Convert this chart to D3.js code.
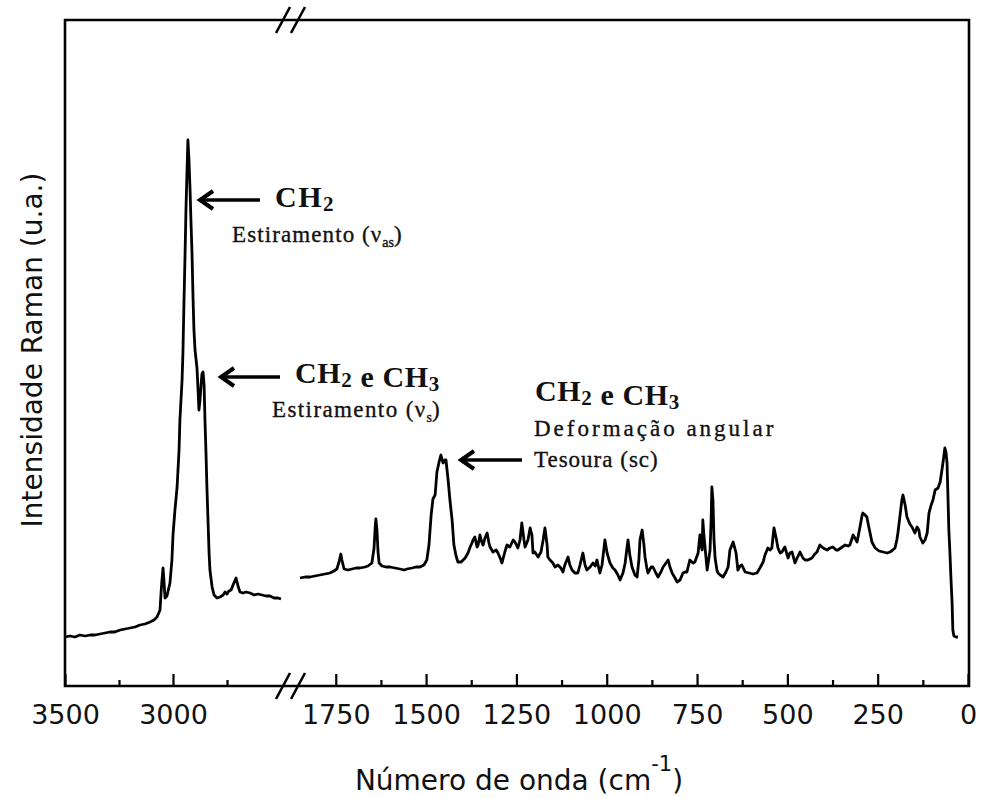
<!DOCTYPE html>
<html>
<head>
<meta charset="utf-8">
<script src="https://cdn.jsdelivr.net/npm/d3@7"></script>
<style>
  html, body { margin: 0; padding: 0; background: #fff; }
  svg { display: block; }
</style>
</head>
<body>
<svg id="chart" width="982" height="798"></svg>
<script>
// Raman spectrum with a broken wavenumber axis (high-frequency C-H stretch region | fingerprint region)

// High-frequency region (cm-1) and intensity (arbitrary units)
const leftWavenumber = [3500,3477,3454,3431,3407,3384,3361,3338,3315,3292,3269,3245,3222,3199,3176,3153,3130,3106,3088,3074,3060,3056,3051,3046,3042,3037,3028,3014,3005,3000,2991,2981,2972,2968,2958,2954,2949,2944,2940,2935,2931,2926,2921,2917,2912,2907,2903,2898,2893,2889,2884,2880,2875,2870,2866,2861,2856,2852,2847,2843,2838,2833,2829,2819,2810,2796,2782,2768,2759,2750,2741,2731,2722,2708,2699,2690,2676,2662,2643,2625,2606,2588,2569,2551,2532,2514,2500];
const leftIntensity = [49,50,49,51,50,51,51,52,53,54,54,56,57,58,59,61,62,64,66,69,76,91,106,118,106,88,90,103,126,151,176,199,236,266,306,333,386,433,476,516,546,526,496,466,433,386,356,336,326,318,296,276,286,301,312,314,301,266,231,199,166,133,116,99,91,88,89,91,94,92,95,96,101,108,100,94,93,94,93,91,92,91,90,90,88,88,87];

// Fingerprint region (cm-1) and intensity (arbitrary units)
const rightWavenumber = [1849,1835,1821,1808,1794,1780,1766,1755,1747,1741,1736,1733,1727,1716,1705,1694,1683,1669,1661,1650,1644,1641,1639,1636,1633,1630,1622,1611,1600,1586,1572,1561,1553,1539,1528,1517,1506,1498,1492,1486,1481,1475,1470,1464,1459,1453,1448,1445,1439,1434,1428,1423,1417,1412,1403,1392,1384,1378,1373,1370,1365,1359,1356,1351,1345,1342,1337,1331,1326,1323,1315,1306,1301,1295,1290,1282,1276,1268,1259,1254,1246,1240,1235,1229,1226,1218,1212,1207,1204,1199,1190,1182,1176,1171,1165,1163,1157,1149,1143,1135,1127,1121,1116,1107,1102,1096,1088,1080,1074,1066,1060,1055,1046,1038,1032,1027,1019,1013,1005,999,991,983,977,969,963,955,949,944,941,936,930,922,916,911,908,902,897,894,889,886,877,872,864,858,850,844,836,830,825,819,811,805,797,789,783,778,770,761,756,747,742,739,736,734,731,728,722,720,714,711,709,706,703,700,695,692,686,678,670,664,659,650,642,637,631,626,617,606,595,584,576,567,562,554,548,543,537,531,526,520,515,507,498,493,487,479,473,465,457,451,443,432,424,418,410,401,390,382,374,365,360,352,340,332,327,318,313,307,299,293,291,285,280,274,271,266,257,246,235,224,216,208,202,197,194,188,183,180,174,169,161,155,147,141,136,133,125,119,113,108,102,97,91,83,77,75,69,64,61,58,55,53,50,47,44,42,39,33,28];
const rightIntensity = [108,109,109,110,111,112,113,115,117,124,132,126,117,116,117,118,118,119,120,123,138,158,167,156,134,123,120,119,119,118,117,116,117,118,119,119,121,126,141,171,187,191,214,224,231,223,226,226,206,186,166,141,130,124,124,128,133,139,143,146,149,139,141,151,143,141,148,153,143,139,134,136,133,128,123,134,141,139,146,144,138,146,163,146,139,146,158,151,133,134,129,134,146,158,141,129,126,123,119,121,118,114,121,129,121,116,113,113,121,133,121,116,119,123,120,126,113,121,146,133,123,118,116,111,106,113,123,138,146,131,119,111,109,126,146,156,141,129,118,113,119,119,113,109,114,119,123,126,119,113,108,104,106,113,114,114,126,123,124,133,151,141,136,166,151,139,116,121,136,166,199,186,146,128,116,113,111,109,114,119,136,144,133,116,120,121,114,113,112,113,118,124,131,138,136,138,158,148,138,133,134,139,128,133,134,123,128,134,128,126,126,128,132,134,141,138,136,138,139,136,136,138,141,140,141,151,148,144,159,171,173,171,169,158,153,144,138,135,134,133,134,136,138,146,153,171,186,191,181,169,162,159,153,159,156,149,143,146,153,173,181,186,196,198,204,209,224,238,234,223,183,156,133,106,83,56,50,49,49];

// Tick values for each axis segment
const leftMajorTicks = [3500, 3000];
const leftMinorTicks = [3250, 2750];
const rightMajorTicks = [1750, 1500, 1250, 1000, 750, 500, 250, 0];
const rightMinorTicks = [1625, 1375, 1125, 875, 625, 375, 125];

const xTitle = "Número de onda (cm";
const xTitleSup = "-1";
const yTitle = "Intensidade Raman (u.a.)";

const svg = d3.select("#chart");
const plot = { left: 65, right: 969, top: 20, bottom: 686 };

const xLeft = d3.scaleLinear().domain([3500, 2500]).range([65, 281]);
const xRight = d3.scaleLinear().domain([1849, 0]).range([300, 968]);
const y = d3.scaleLinear().domain([0, 666]).range([plot.bottom, plot.top]);

const axisFont = "'DejaVu Sans', Verdana, sans-serif";
const serif = "'Liberation Serif', 'Times New Roman', serif";

// frame
const frame = svg.append("g").attr("stroke", "#000").attr("stroke-width", 2.6).attr("fill", "none");
frame.append("path").attr("d",
  `M${plot.left},${plot.top} L${plot.right},${plot.top} L${plot.right},${plot.bottom} L${plot.left},${plot.bottom} Z`);

// axis break marks on top and bottom edges
[plot.top, plot.bottom].forEach(yy => {
  [283, 298].forEach(xx => {
    frame.append("line")
      .attr("x1", xx - 7).attr("y1", yy + 13)
      .attr("x2", xx + 7).attr("y2", yy - 13)
      .attr("stroke-width", 2.6);
  });
});

// ticks and labels (ticks point inward)
function drawAxis(scale, major, minor) {
  const gMaj = svg.append("g").attr("transform", `translate(0,${plot.bottom})`)
    .call(d3.axisBottom(scale).tickValues(major).tickFormat(d3.format("d"))
      .tickSizeInner(-12).tickSizeOuter(0).tickPadding(19));
  const gMin = svg.append("g").attr("transform", `translate(0,${plot.bottom})`)
    .call(d3.axisBottom(scale).tickValues(minor).tickSizeInner(-6).tickSizeOuter(0).tickFormat(""));
  [gMaj, gMin].forEach(g => {
    g.select(".domain").remove();
    g.selectAll(".tick line").attr("stroke", "#000").attr("stroke-width", 2.2);
  });
  gMaj.selectAll(".tick text")
    .attr("font-family", axisFont).attr("font-size", 27).attr("fill", "#111");
}
drawAxis(xLeft, leftMajorTicks, leftMinorTicks);
drawAxis(xRight, rightMajorTicks, rightMinorTicks);

// spectrum
const lineL = d3.line().x((d, i) => xLeft(leftWavenumber[i])).y(d => y(d));
const lineR = d3.line().x((d, i) => xRight(rightWavenumber[i])).y(d => y(d));
svg.append("path").attr("d", lineL(leftIntensity))
  .attr("fill", "none").attr("stroke", "#000").attr("stroke-width", 2.8).attr("stroke-linejoin", "round");
svg.append("path").attr("d", lineR(rightIntensity))
  .attr("fill", "none").attr("stroke", "#000").attr("stroke-width", 2.8).attr("stroke-linejoin", "round");

// axis titles
const xt = svg.append("text").attr("x", 519).attr("y", 790)
  .attr("text-anchor", "middle").attr("font-family", axisFont).attr("font-size", 28).attr("fill", "#111");
xt.append("tspan").text(xTitle);
xt.append("tspan").attr("dy", -19).attr("font-size", 21).text(xTitleSup);
xt.append("tspan").attr("dy", 19).text(")");

svg.append("text").attr("transform", "translate(42,350) rotate(-90)")
  .attr("text-anchor", "middle").attr("font-family", axisFont).attr("font-size", 28).attr("fill", "#111")
  .text(yTitle);

// arrows
function arrow(xTip, xTail, yy) {
  const g = svg.append("g").attr("stroke", "#000").attr("fill", "none");
  g.append("line").attr("x1", xTip + 2).attr("y1", yy).attr("x2", xTail).attr("y2", yy).attr("stroke-width", 3.6);
  g.append("path").attr("d", `M${xTip + 14},${yy - 9} L${xTip + 1},${yy} L${xTip + 14},${yy + 9}`)
    .attr("stroke-width", 4).attr("stroke-linejoin", "miter");
}
arrow(199, 260, 200);
arrow(220, 280, 377);
arrow(460, 522, 460);

// band labels: formula line with subscripts
function formula(x, yy, parts, spacing) {
  const t = svg.append("text").attr("x", x).attr("y", yy)
    .attr("font-family", serif).attr("font-size", 30).attr("font-weight", "bold").attr("fill", "#111")
    .attr("letter-spacing", spacing);
  parts.forEach(p => {
    if (p.sub) {
      t.append("tspan").attr("dy", 4).attr("font-size", 21).text(p.sub);
      t.append("tspan").attr("dy", -4).text("");
    } else {
      t.append("tspan").text(p.t);
    }
  });
}
function caption(x, yy, main, sub, tail, spacing) {
  const t = svg.append("text").attr("x", x).attr("y", yy)
    .attr("font-family", serif).attr("font-size", 23).attr("fill", "#111")
    .attr("stroke", "#111").attr("stroke-width", 0.35)
    .attr("letter-spacing", spacing);
  t.append("tspan").text(main);
  if (sub) {
    t.append("tspan").attr("dy", 5).attr("font-size", 14).attr("letter-spacing", 0).text(sub);
    t.append("tspan").attr("dy", -5).text(tail);
  }
}

formula(275, 207, [{t: "CH"}, {sub: "2"}], 1.5);
caption(232, 242, "Estiramento (ν", "as", ")", 1.1);

formula(295, 383, [{t: "CH"}, {sub: "2"}, {t: " e CH"}, {sub: "3"}], 0.6);
caption(272, 417, "Estiramento (ν", "s", ")", 1.4);

formula(535, 401, [{t: "CH"}, {sub: "2"}, {t: " e CH"}, {sub: "3"}], 0.6);
caption(534, 436, "Deformação angular", null, null, 3.0);
caption(534, 467, "Tesoura (sc)", null, null, 1.0);
</script>
</body>
</html>
